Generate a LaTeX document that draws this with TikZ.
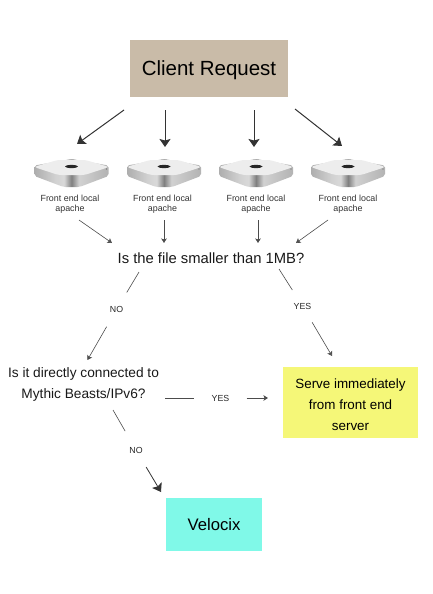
\documentclass[tikz,border=0pt]{standalone}
\usepackage{fontspec}
\setmainfont{Liberation Sans}
\usetikzlibrary{arrows.meta}
\definecolor{clientcol}{RGB}{201,187,168}
\definecolor{servecol}{RGB}{245,247,120}
\definecolor{velocixcol}{RGB}{128,249,232}
\pgfdeclarehorizontalshading{miniside}{74bp}{
  color(0bp)=(black!60); color(6bp)=(black!38); color(26bp)=(black!18);
  color(32bp)=(black!15); color(37bp)=(black!50); color(42bp)=(black!18);
  color(62bp)=(black!30); color(74bp)=(black!65)}
\tikzset{
  boxnode/.style={inner sep=0pt, align=center},
  bignode/.style={align=center, inner sep=0pt, text=black!90},
  applabel/.style={font=\fontsize{8.9}{10}\selectfont, align=center, inner sep=0pt, text=black!80},
  anslabel/.style={font=\fontsize{8.8}{10}\selectfont, inner sep=0pt, text=black!85},
  bigarrow/.style={-{Stealth[length=8pt,width=11pt,inset=1.5pt]}, line width=1pt, draw=black!80},
  smallarrow/.style={-{Stealth[length=4.5pt,width=5.5pt,inset=1pt]}, line width=0.6pt, draw=black!70},
  macmini/.pic={
    % body, then top face, then logo and lamp
    \path[shading=miniside, rounded corners=2pt]
      (-37,5.5) -- (-37,16) -- (-8,27) -- (8,27) -- (37,16) -- (37,5.5) -- (0,-1) -- cycle;
    \path[fill=black!7, rounded corners=3pt]
      (-37.5,7) -- (-14,0) -- (14,0) -- (37.5,7) -- (13,15) -- (-13,15) -- cycle;
    \fill[black!85] (0,6.5) ellipse (6.5pt and 1.6pt);
    \fill[black!60] (35,9) circle (0.7pt);
  }
}
\begin{document}
\begin{tikzpicture}[x=1pt, y=-1pt, >=Stealth]
  \useasboundingbox (0,0) rectangle (432,594);
  % Boxes
  \node[boxnode, fill=clientcol, minimum width=158pt, minimum height=57pt, text depth=0pt,
    font=\fontsize{20.5}{24}\selectfont] (client) at (209,68.5) {Client Request};
  \node[boxnode, fill=servecol, minimum width=135pt, minimum height=71pt,
    font=\fontsize{13.4}{21}\selectfont] (serve) at (350.5,402.5) {\rule{0pt}{14pt}Serve immediately\\from front end\\server};
  \node[boxnode, fill=velocixcol, minimum width=95.5pt, minimum height=53pt,
    font=\fontsize{16.7}{18}\selectfont] (velocix) at (214,524.5) {Velocix};
  % Questions
  \node[bignode, font=\fontsize{14.8}{21}\selectfont] (filesize) at (211,258) {Is the file smaller than 1MB?};
  \node[bignode, font=\fontsize{13.7}{21}\selectfont] (direct) at (83.5,384) {Is it directly connected to\\Mythic Beasts/IPv6?};
  % Front end machines with their labels
  \foreach \n/\mx/\lx in {1/71.5/70, 2/164/162.5, 3/256/256, 4/348/348}{
    \pic (mini\n) at (\mx,160) {macmini};
    \node[applabel] (apache\n) at (\lx,204) {Front end local\\apache};
  }
  % Client to machines
  \coordinate (cl1) at (124,110);
  \coordinate (cl2) at (165,110);
  \coordinate (cl3) at (254,110);
  \coordinate (cl4) at (295,109);
  \coordinate (in1) at (77,144);
  \coordinate (in2) at (165,147);
  \coordinate (in3) at (254,147);
  \coordinate (in4) at (342,146);
  \foreach \i in {1,...,4}{
    \draw[bigarrow] (cl\i) -- (in\i);
  }
  % Machines to first question
  \coordinate (ap1) at (79,220);
  \coordinate (ap2) at (164,220);
  \coordinate (ap3) at (258,220);
  \coordinate (ap4) at (328,220);
  \coordinate (fs1) at (112,243);
  \coordinate (fs2) at (164,243);
  \coordinate (fs3) at (258,243);
  \coordinate (fs4) at (296,243);
  \foreach \i in {1,...,4}{
    \draw[smallarrow] (ap\i) -- (fs\i);
  }
  % Answer labels
  \node[anslabel] (no1) at (116.5,309.5) {NO};
  \node[anslabel] (yes1) at (302.5,306) {YES};
  \node[anslabel] (yes2) at (220.5,398) {YES};
  \node[anslabel] (no2) at (136,450) {NO};
  % Answers, each in two pieces
  \coordinate (fsno) at (139,272);
  \coordinate (fsyes) at (279,269);
  \coordinate (diryes) at (165,398);
  \coordinate (dirno) at (113,410);
  \coordinate (yesend) at (332,356);
  \coordinate (rightend) at (268,398);
  \coordinate (velend) at (161,492);
  \draw[smallarrow, -, shorten >=16pt] (fsno) -- (no1);
  \draw[smallarrow, shorten <=16pt, shorten >=8pt] (no1) -- (direct.north);
  \draw[smallarrow, -, shorten >=15pt] (fsyes) -- (yes1);
  \draw[smallarrow, shorten <=15pt] (yes1) -- (yesend);
  \draw[smallarrow, -, shorten >=17pt] (diryes) -- (yes2);
  \draw[smallarrow, line width=0.8pt, shorten <=17pt] (yes2) -- (rightend);
  \draw[smallarrow, -, shorten >=18pt] (dirno) -- (no2);
  \draw[bigarrow, line width=0.8pt, shorten <=16pt] (no2) -- (velend);
\end{tikzpicture}
\end{document}
